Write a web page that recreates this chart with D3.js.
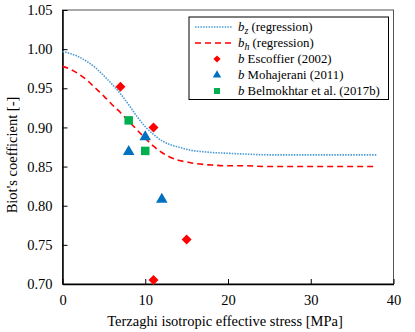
<!DOCTYPE html>
<html>
<head>
<meta charset="utf-8">
<script src="https://cdn.jsdelivr.net/npm/d3@7"></script>
<style>
  body { margin: 0; background: #fff; }
  text { font-family: "Liberation Serif", "Times New Roman", serif; fill: #000; }
</style>
</head>
<body>
<div id="chart"></div>
<script>
// regression curves
const bzStress = [0, 2, 4, 5, 6, 7, 8, 9, 10, 11, 12, 13, 14, 15, 16, 17, 18, 20, 22, 25, 30, 38];
const bzValues = [0.997, 0.990, 0.976, 0.966, 0.955, 0.943, 0.929, 0.914, 0.901, 0.891, 0.883, 0.878, 0.875, 0.872, 0.870, 0.869, 0.868, 0.867, 0.866, 0.865, 0.865, 0.865];
const bhStress = [0, 1, 2, 3, 4, 5, 6, 7, 8, 9, 10, 11, 12, 13, 14, 15, 16, 18, 20, 22, 25, 30, 38];
const bhValues = [0.978, 0.974, 0.968, 0.960, 0.950, 0.940, 0.929, 0.919, 0.908, 0.897, 0.886, 0.876, 0.868, 0.862, 0.858, 0.856, 0.854, 0.852, 0.851, 0.851, 0.850, 0.850, 0.850];

// measured points
const escoffierX = [7, 11, 15, 11];
const escoffierY = [0.952, 0.900, 0.757, 0.705];
const mohajeraniX = [8, 10, 12];
const mohajeraniY = [0.869, 0.888, 0.808];
const belmokhtarX = [8, 10];
const belmokhtarY = [0.909, 0.870];

const xTicks = [0, 10, 20, 30, 40];
const yTicks = [0.70, 0.75, 0.80, 0.85, 0.90, 0.95, 1.00, 1.05];

const W = 415, H = 332;
const margin = {top: 10, right: 21.5, bottom: 48, left: 62.5};
const width = W - margin.left - margin.right;
const height = H - margin.top - margin.bottom;

const svg = d3.select("#chart").append("svg")
  .attr("width", W).attr("height", H);
const g = svg.append("g").attr("transform", `translate(${margin.left},${margin.top})`);

const x = d3.scaleLinear().domain([0, 40]).range([0, width]);
const y = d3.scaleLinear().domain([0.70, 1.05]).range([height, 0]);

// frame (top/right)
g.append("rect").attr("width", width).attr("height", height)
  .attr("fill", "none").attr("stroke", "#555").attr("stroke-width", 1);

// axes, ticks inside
const xAxis = g.append("g").attr("transform", `translate(0,${height})`)
  .call(d3.axisBottom(x).tickValues(xTicks).tickSizeInner(-5).tickSizeOuter(0).tickPadding(9).tickFormat(d3.format("d")));
const yAxis = g.append("g")
  .call(d3.axisLeft(y).tickValues(yTicks).tickSizeInner(-5).tickSizeOuter(0).tickPadding(10).tickFormat(d3.format(".2f")));
[xAxis, yAxis].forEach(a => {
  a.attr("font-family", null).attr("font-size", null);
  a.select(".domain").attr("stroke", "#000").attr("stroke-width", 1.5);
  a.selectAll(".tick line").attr("stroke", "#000").attr("stroke-width", 1);
  a.selectAll(".tick text").style("font-size", "14.5px");
});
xAxis.selectAll(".tick text").attr("dy", "0.85em");

// curves
const line = d3.line().curve(d3.curveMonotoneX).x(d => x(d[0])).y(d => y(d[1]));
g.append("path").datum(d3.zip(bhStress, bhValues))
  .attr("d", line).attr("fill", "none").attr("stroke", "#ff0000")
  .attr("stroke-width", 1.6).attr("stroke-dasharray", "6,4");
g.append("path").datum(d3.zip(bzStress, bzValues))
  .attr("d", line).attr("fill", "none").attr("stroke", "#4a9ad8")
  .attr("stroke-width", 1.6).attr("stroke-dasharray", "1.5,1.2");

// markers
const diamond = d3.symbol().type(d3.symbolSquare).size(50);
const tri = d3.symbol().type(d3.symbolTriangle).size(58);
const sq = d3.symbol().type(d3.symbolSquare).size(72);

g.selectAll(".esc").data(d3.zip(escoffierX, escoffierY)).join("path")
  .attr("d", diamond).attr("fill", "#ff0000")
  .attr("transform", d => `translate(${x(d[0])},${y(d[1])}) rotate(45)`);
g.selectAll(".moh").data(d3.zip(mohajeraniX, mohajeraniY)).join("path")
  .attr("d", tri).attr("fill", "#0070c0")
  .attr("transform", d => `translate(${x(d[0])},${y(d[1])})`);
g.selectAll(".bel").data(d3.zip(belmokhtarX, belmokhtarY)).join("path")
  .attr("d", sq).attr("fill", "#00b050")
  .attr("transform", d => `translate(${x(d[0])},${y(d[1])})`);

// axis titles
svg.append("text").attr("x", margin.left + width / 2 - 3).attr("y", 326)
  .attr("text-anchor", "middle").style("font-size", "14.5px")
  .text("Terzaghi isotropic effective stress [MPa]");
svg.append("text").attr("transform", `translate(17,${margin.top + height / 2 + 8}) rotate(-90)`)
  .attr("text-anchor", "middle").style("font-size", "14.5px")
  .text("Biot's coefficient [-]");

// legend
const lg = svg.append("g").attr("transform", "translate(189,17)");
lg.append("rect").attr("width", 199.5).attr("height", 82.5)
  .attr("fill", "#fff").attr("stroke", "#000").attr("stroke-width", 1);
const rows = [
  {kind: "dot", sub: "z", label: " (regression)"},
  {kind: "dash", sub: "h", label: " (regression)"},
  {kind: "esc", label: " Escoffier (2002)"},
  {kind: "moh", label: " Mohajerani (2011)"},
  {kind: "bel", label: " Belmokhtar et al. (2017b)"}
];
rows.forEach((r, i) => {
  const ry = 10 + i * 16;
  const row = lg.append("g").attr("transform", `translate(0,${ry})`);
  if (r.kind === "dot") {
    row.append("line").attr("x1", 6).attr("x2", 43).attr("stroke", "#4a9ad8")
      .attr("stroke-width", 1.6).attr("stroke-dasharray", "1.5,1.2");
  } else if (r.kind === "dash") {
    row.append("line").attr("x1", 6).attr("x2", 43).attr("stroke", "#ff0000")
      .attr("stroke-width", 1.6).attr("stroke-dasharray", "6,4");
  } else if (r.kind === "esc") {
    row.append("path").attr("d", d3.symbol().type(d3.symbolSquare).size(26)).attr("fill", "#ff0000")
      .attr("transform", "translate(28,0) rotate(45)");
  } else if (r.kind === "moh") {
    row.append("path").attr("d", d3.symbol().type(d3.symbolTriangle).size(30)).attr("fill", "#0070c0")
      .attr("transform", "translate(28,0)");
  } else {
    row.append("path").attr("d", d3.symbol().type(d3.symbolSquare).size(36)).attr("fill", "#00b050")
      .attr("transform", "translate(28,0)");
  }
  const t = row.append("text").attr("x", 49).attr("dy", "0.35em").style("font-size", "12.8px");
  t.append("tspan").style("font-style", "italic").text("b");
  if (r.sub) t.append("tspan").style("font-style", "italic").style("font-size", "10px").attr("dy", "3").text(r.sub);
  t.append("tspan").attr("dy", r.sub ? "-3" : null).text(r.label);
});
</script>
</body>
</html>
